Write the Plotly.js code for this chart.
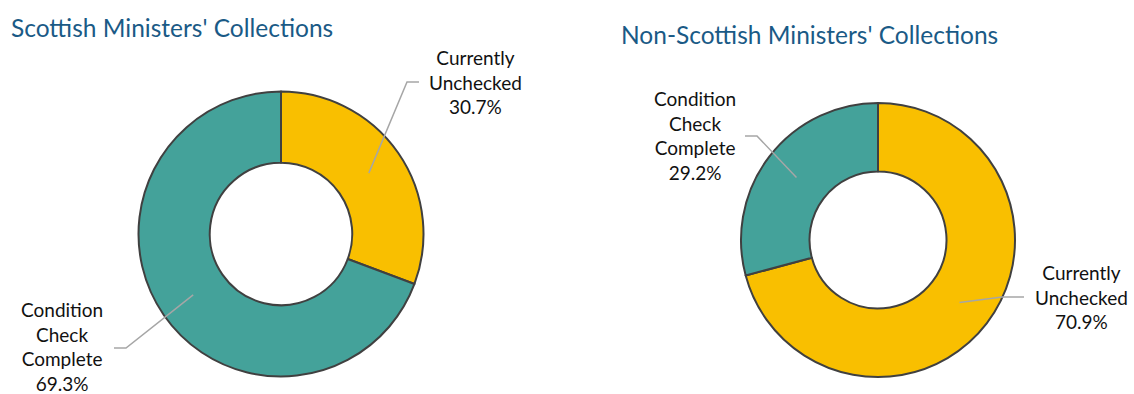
<!DOCTYPE html>
<html>
<head>
<meta charset="utf-8">
<script src="https://cdn.plot.ly/plotly-3.0.1.min.js"></script>
<style>
  html, body { margin: 0; padding: 0; background: #ffffff; }
  #chart { width: 1134px; height: 394px; }
</style>
</head>
<body>
<div id="chart"></div>
<script>
// ---- Data ----
var categories = ['Currently Unchecked', 'Condition Check Complete'];
var categoryLines = ['Currently<br>Unchecked', 'Condition<br>Check<br>Complete'];
var titles = ["Scottish Ministers' Collections", "Non-Scottish Ministers' Collections"];
var scottishValues = [30.7, 69.3];
var nonScottishValues = [70.9, 29.2];

// ---- Layout / style ----
var W = 1134, H = 394;
var colors = ['#f9bf00', '#44a29a'];
var HOLE = 0.5;
var FONT = 'Lato, "Open Sans", sans-serif';

// pie geometry (pixels)
var pies = [
  { cx: 281, cy: 234, r: 142.5, values: scottishValues,
    title: { x: 9, y: 28 },
    labels: [ { lx: 475, ly: 82, elbow: 407, end: 419 },
              { lx: 62,  ly: 346, elbow: 126, end: 114, lineY: 348 } ] },
  { cx: 878, cy: 240, r: 137, values: nonScottishValues,
    title: { x: 619, y: 35 },
    labels: [ { lx: 1081, ly: 297, elbow: 1002, end: 1024 },
              { lx: 695,  ly: 136, elbow: 757, end: 745 } ] }
];

function px2x(p) { return p / W; }
function py2y(p) { return 1 - p / H; }

var data = [];
var annotations = [];
var shapes = [];

pies.forEach(function (p, i) {
  data.push({
    type: 'pie',
    labels: categories,
    values: p.values,
    sort: false,
    direction: 'clockwise',
    rotation: 0,
    hole: HOLE,
    textinfo: 'none',
    hoverinfo: 'skip',
    marker: { colors: colors, line: { color: '#404040', width: 2 } },
    domain: {
      x: [px2x(p.cx - p.r), px2x(p.cx + p.r)],
      y: [py2y(p.cy + p.r), py2y(p.cy - p.r)]
    },
    showlegend: false
  });

  annotations.push({
    xref: 'paper', yref: 'paper',
    x: px2x(p.title.x), y: py2y(p.title.y),
    xanchor: 'left', yanchor: 'middle',
    text: titles[i], showarrow: false,
    font: { family: FONT, size: 24.5, color: '#1a5a86' }
  });

  var total = p.values.reduce(function (a, b) { return a + b; }, 0);
  var cum = 0;
  var rMid = p.r * (1 + HOLE) / 2;
  p.values.forEach(function (v, k) {
    var theta = 2 * Math.PI * (cum + v / 2) / total;
    cum += v;
    var sx = p.cx + rMid * Math.sin(theta);
    var sy = p.cy - rMid * Math.cos(theta);
    var L = p.labels[k];
    var ly = (L.lineY !== undefined) ? L.lineY : L.ly;
    shapes.push({
      type: 'path', xref: 'paper', yref: 'paper',
      path: 'M ' + px2x(sx) + ',' + py2y(sy) +
            ' L ' + px2x(L.elbow) + ',' + py2y(ly) +
            ' L ' + px2x(L.end) + ',' + py2y(ly),
      line: { color: '#a6a6a6', width: 1.5 }
    });
    var pct = (Math.round(v * 10) / 10).toFixed(1) + '%';
    annotations.push({
      xref: 'paper', yref: 'paper',
      x: px2x(L.lx), y: py2y(L.ly),
      xanchor: 'center', yanchor: 'middle',
      text: categoryLines[k] + '<br>' + pct,
      align: 'center', showarrow: false,
      font: { family: FONT, size: 19, color: '#111111' }
    });
  });
});

var layout = {
  width: W, height: H,
  margin: { l: 0, r: 0, t: 0, b: 0 },
  paper_bgcolor: '#ffffff',
  plot_bgcolor: '#ffffff',
  showlegend: false,
  hovermode: false,
  annotations: annotations,
  shapes: shapes
};

Plotly.newPlot('chart', data, layout, { staticPlot: true, displayModeBar: false });
</script>
</body>
</html>
